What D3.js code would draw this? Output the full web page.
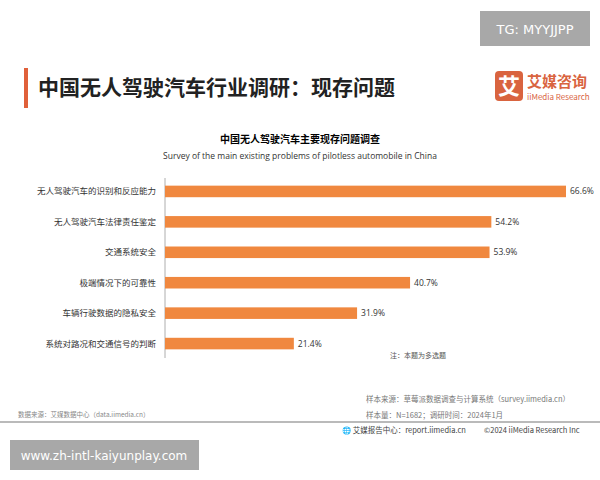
<!DOCTYPE html>
<html><head><meta charset="utf-8">
<script src="https://cdn.jsdelivr.net/npm/d3@7"></script>
<style>body{margin:0;background:#fff;font-family:"Noto Sans CJK SC","Noto Sans",sans-serif;}</style>
</head><body><div id="chart"></div>
<script>
// Chart data
const categories = ["无人驾驶汽车的识别和反应能力", "无人驾驶汽车法律责任鉴定", "交通系统安全", "极端情况下的可靠性", "车辆行驶数据的隐私安全", "系统对路况和交通信号的判断"];
const values = [66.6, 54.2, 53.9, 40.7, 31.9, 21.4];

const svg = d3.select("#chart").append("svg").attr("width", 600).attr("height", 480);
const f = "Noto Sans CJK SC";

// header
svg.append("rect").attr("x", 480).attr("y", 11).attr("width", 110).attr("height", 35).attr("fill", "#a8a8a8");
svg.append("text").attr("x", 535).attr("y", 34).attr("text-anchor", "middle").attr("fill", "#fff")
  .style("font-family", "DejaVu Sans").style("font-size", "13px").text("TG: MYYJJPP");
svg.append("rect").attr("x", 24).attr("y", 68).attr("width", 4).attr("height", 40).attr("fill", "#e0603a");
svg.append("text").attr("x", 38).attr("y", 95).style("font-family", f).style("font-size", "21px").style("font-weight", "bold")
  .attr("fill", "#222").text("中国无人驾驶汽车行业调研：现存问题");
svg.append("rect").attr("x", 495).attr("y", 71).attr("width", 28).attr("height", 30).attr("rx", 4).attr("fill", "#d9643f");
svg.append("text").attr("x", 509).attr("y", 94).attr("text-anchor", "middle").attr("fill", "#fff")
  .style("font-family", f).style("font-size", "22px").style("font-weight", "bold").text("艾");
svg.append("text").attr("x", 527).attr("y", 87).attr("fill", "#d9643f").style("font-family", f).style("font-size", "15px").style("font-weight", "bold").text("艾媒咨询");
svg.append("text").attr("x", 527).attr("y", 100).attr("fill", "#d9643f").style("font-family", f).style("font-size", "8px").text("iiMedia Research");

// chart titles
svg.append("text").attr("x", 300).attr("y", 143).attr("text-anchor", "middle").style("font-family", f).style("font-size", "10px").style("font-weight", "bold").text("中国无人驾驶汽车主要现存问题调查");
svg.append("text").attr("x", 300).attr("y", 159).attr("text-anchor", "middle").style("font-family", "Open Sans").style("font-size", "8.5px").attr("fill", "#333").text("Survey of the main existing problems of pilotless automobile in China");

// scales
const x = d3.scaleLinear().domain([0, 66.6]).range([165, 566]);
const y = d3.scaleBand().domain(categories).range([175, 360]).paddingInner(0.62).paddingOuter(0.35);

svg.append("line").attr("x1", 165).attr("x2", 165).attr("y1", 178).attr("y2", 358).attr("stroke", "#999").attr("stroke-width", 0.8);
svg.append("g").selectAll("rect").data(values).join("rect")
  .attr("x", x(0)).attr("y", (d, i) => y(categories[i]))
  .attr("width", d => x(d) - x(0)).attr("height", y.bandwidth()).attr("fill", "#f0883f");
svg.append("g").selectAll("text").data(values).join("text")
  .attr("x", d => x(d) + 4).attr("y", (d, i) => y(categories[i]) + y.bandwidth() / 2 + 3)
  .style("font-family", "Open Sans").style("font-size", "8.5px").attr("fill", "#333").text(d => d.toFixed(1) + "%");
svg.append("g").selectAll("text").data(categories).join("text")
  .attr("x", 156).attr("y", d => y(d) + y.bandwidth() / 2 + 3).attr("text-anchor", "end")
  .style("font-family", f).style("font-size", "8.5px").attr("fill", "#333").text(d => d);

svg.append("text").attr("x", 390).attr("y", 358).style("font-family", f).style("font-size", "7px").attr("fill", "#555").text("注：本题为多选题");

// footer
const ft = (x0, y0, s, size, col) => svg.append("text").attr("x", x0).attr("y", y0).style("font-family", f).style("font-size", size + "px").attr("fill", col || "#777").text(s);
ft(366, 402, "样本来源：草莓派数据调查与计算系统（survey.iimedia.cn）", 7.5);
ft(366, 418, "样本量：N=1682；调研时间：2024年1月", 7.5);
ft(18, 417, "数据来源：艾媒数据中心（data.iimedia.cn）", 6.5, "#888");
svg.append("line").attr("x1", 0).attr("x2", 600).attr("y1", 422).attr("y2", 422).attr("stroke", "#777").attr("stroke-width", 1.2);
ft(342, 433, "🌐 艾媒报告中心：report.iimedia.cn", 7.5, "#444");
ft(484, 433, "©2024  iiMedia Research  Inc", 7.5, "#444");
svg.append("rect").attr("x", 10).attr("y", 440).attr("width", 189).attr("height", 30).attr("fill", "#a8a8a8");
svg.append("text").attr("x", 104).attr("y", 460).attr("text-anchor", "middle").attr("fill", "#fff")
  .style("font-family", "DejaVu Sans").style("font-size", "12px").text("www.zh-intl-kaiyunplay.com");
</script></body></html>
